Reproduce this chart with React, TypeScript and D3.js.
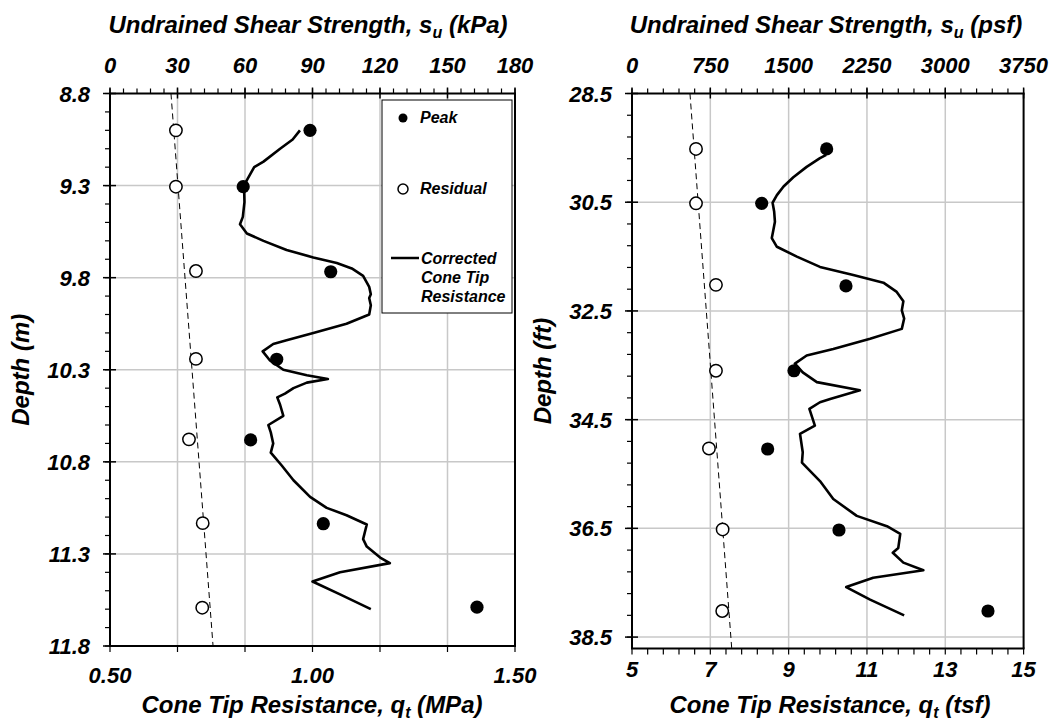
import React from "react";
import * as d3 from "d3";

const FONT = '"Liberation Sans", Arial, Helvetica, sans-serif';

// ---------- Left panel (metric) ----------
const leftPeakDepthM = [9.0, 9.306, 9.768, 10.243, 10.681, 11.136, 11.589];
const leftPeakSuKPa = [88.9, 59.2, 98.1, 74.1, 62.5, 94.8, 163.1];
const leftResDepthM = [9.0, 9.306, 9.764, 10.241, 10.678, 11.133, 11.592];
const leftResSuKPa = [29.3, 29.3, 38.2, 38.2, 35.1, 41.2, 41.0];
const leftTrendDepthM = [8.8, 11.8];
const leftTrendSuKPa = [27.1, 45.8];
const leftConeDepthM = [9.0, 9.05, 9.1, 9.17, 9.2, 9.27, 9.3, 9.39, 9.47, 9.51, 9.56, 9.6, 9.65, 9.69, 9.72, 9.75, 9.79, 9.85, 9.89, 9.91, 9.95, 10.0, 10.05, 10.1, 10.14, 10.16, 10.2, 10.25, 10.3, 10.33, 10.35, 10.37, 10.4, 10.43, 10.45, 10.49, 10.55, 10.6, 10.64, 10.7, 10.75, 10.82, 10.9, 10.99, 11.05, 11.09, 11.14, 11.22, 11.26, 11.32, 11.35, 11.4, 11.45, 11.52, 11.6];
const leftConeQtMPa = [0.969, 0.951, 0.92, 0.879, 0.856, 0.838, 0.831, 0.832, 0.828, 0.821, 0.838, 0.879, 0.936, 1.002, 1.06, 1.097, 1.125, 1.14, 1.144, 1.14, 1.144, 1.14, 1.084, 1.002, 0.936, 0.903, 0.877, 0.895, 0.928, 0.986, 1.038, 0.986, 0.953, 0.932, 0.913, 0.92, 0.928, 0.891, 0.897, 0.903, 0.897, 0.924, 0.953, 0.994, 1.035, 1.084, 1.134, 1.125, 1.134, 1.167, 1.191, 1.068, 1.0, 1.068, 1.144];

const leftTopTicks = [0, 30, 60, 90, 120, 150, 180];
const leftBottomLabels = [0.5, 1.0, 1.5];
const leftDepthTicks = [8.8, 9.3, 9.8, 10.3, 10.8, 11.3, 11.8];

// ---------- Right panel (imperial) ----------
const rightPeakDepthFt = [29.52, 30.52, 32.04, 33.6, 35.04, 36.53, 38.02];
const rightPeakSuPsf = [1864, 1242, 2049, 1551, 1299, 1982, 3409];
const rightResDepthFt = [29.52, 30.52, 32.02, 33.6, 35.03, 36.52, 38.02];
const rightResSuPsf = [613, 613, 804, 804, 737, 868, 864];
const rightTrendDepthFt = [28.5, 38.71];
const rightTrendSuPsf = [555, 955];
const rightConeDepthFt = [29.63, 29.69, 29.85, 30.04, 30.21, 30.37, 30.51, 30.67, 30.86, 31.01, 31.16, 31.32, 31.5, 31.69, 31.84, 31.98, 32.15, 32.32, 32.49, 32.64, 32.83, 33.01, 33.2, 33.32, 33.47, 33.63, 33.81, 33.96, 34.12, 34.18, 34.3, 34.61, 34.76, 35.1, 35.29, 35.63, 35.96, 36.27, 36.46, 36.6, 36.86, 36.95, 37.13, 37.27, 37.41, 37.58, 37.81, 38.1];
const rightConeQtTsf = [9.96, 9.8, 9.46, 9.12, 8.87, 8.7, 8.59, 8.63, 8.65, 8.61, 8.57, 8.7, 9.21, 9.8, 10.65, 11.42, 11.76, 11.93, 11.89, 11.95, 11.89, 11.08, 10.14, 9.46, 9.16, 9.36, 9.72, 10.82, 10.06, 9.8, 9.53, 9.67, 9.29, 9.36, 9.34, 9.8, 10.14, 10.74, 11.51, 11.85, 11.8, 11.66, 11.93, 12.44, 11.16, 10.47, 11.08, 11.95];

const rightTopTicks = [0, 750, 1500, 2250, 3000, 3750];
const rightBottomLabels = [5, 7, 9, 11, 13, 15];
const rightDepthTicks = [28.5, 30.5, 32.5, 34.5, 36.5, 38.5];

type PanelCfg = {
  x0: number; x1: number; y0: number; y1: number;
  topDomain: [number, number]; topTicks: number[]; topMinorStep: number;
  botDomain: [number, number]; botTickStep: number; botLabels: number[]; botFmt: (v: number) => string; botLabelY: number;
  yDomain: [number, number]; yTicks: number[]; yMinorStep: number; yFmt: (v: number) => string;
  gridY: number[];
  topTitleX: number; topTitleUnit: string;
  botTitleX: number; botTitleUnit: string;
  yTitleX: number; yTitle: string;
  peakD: number[]; peakS: number[]; resD: number[]; resS: number[];
  trendD: number[]; trendS: number[];
  coneD: number[]; coneQ: number[];
  legend: boolean;
};

const TXT = { fontFamily: FONT, fontWeight: 700, fontStyle: "italic" as const, fill: "#000" };

function Panel({ c }: { c: PanelCfg }) {
  const xTop = d3.scaleLinear().domain(c.topDomain).range([c.x0, c.x1]);
  const xBot = d3.scaleLinear().domain(c.botDomain).range([c.x0, c.x1]);
  const y = d3.scaleLinear().domain(c.yDomain).range([c.y0, c.y1]);

  const topMinor = d3.range(c.topDomain[0], c.topDomain[1] + 1e-6, c.topMinorStep);
  const botTicks = d3.range(c.botDomain[0], c.botDomain[1] + 1e-6, c.botTickStep);
  const yMinor = d3.range(c.yTicks[0], c.yTicks[c.yTicks.length - 1] + 1e-6, c.yMinorStep);

  const coneLine = d3.line<number>().x((_, i) => xBot(c.coneQ[i])).y((d) => y(d));
  const trendLine = d3.line<number>().x((_, i) => xTop(c.trendS[i])).y((d) => y(d));
  const gridX = c.topTicks.slice(1, -1);

  return (
    <g>
      {gridX.map((v) => (
        <line key={"gx" + v} x1={xTop(v)} x2={xTop(v)} y1={c.y0} y2={c.y1} stroke="#c8c8c8" strokeWidth={1.5} />
      ))}
      {c.gridY.map((v) => (
        <line key={"gy" + v} x1={c.x0} x2={c.x1} y1={y(v)} y2={y(v)} stroke="#c8c8c8" strokeWidth={1.5} />
      ))}
      <path d={trendLine(c.trendD) || ""} fill="none" stroke="#000" strokeWidth={1} strokeDasharray="6,4" />
      <path d={coneLine(c.coneD) || ""} fill="none" stroke="#000" strokeWidth={2.6} strokeLinejoin="round" />
      {c.resD.map((d, i) => (
        <circle key={"r" + i} cx={xTop(c.resS[i])} cy={y(d)} r={6.2} fill="#fff" stroke="#000" strokeWidth={1.5} />
      ))}
      {c.peakD.map((d, i) => (
        <circle key={"p" + i} cx={xTop(c.peakS[i])} cy={y(d)} r={6.6} fill="#000" />
      ))}
      {c.legend && (
        <g>
          <rect x={382} y={100} width={130} height={213} fill="#fff" stroke="#000" strokeWidth={1} />
          <circle cx={403} cy={118} r={4.5} fill="#000" />
          <text x={420} y={123} fontSize={16} {...TXT}>Peak</text>
          <circle cx={403} cy={189} r={5} fill="#fff" stroke="#000" strokeWidth={1.5} />
          <text x={420} y={194} fontSize={16} {...TXT}>Residual</text>
          <line x1={391} x2={419} y1={258} y2={258} stroke="#000" strokeWidth={2.5} />
          <text x={421} y={264} fontSize={16} {...TXT}>Corrected</text>
          <text x={421} y={283} fontSize={16} {...TXT}>Cone Tip</text>
          <text x={421} y={302} fontSize={16} {...TXT}>Resistance</text>
        </g>
      )}
      <line x1={c.x1} x2={c.x1} y1={c.y0} y2={c.y1} stroke="#000" strokeWidth={2} />
      <line x1={c.x0} x2={c.x0} y1={c.y0} y2={c.y1} stroke="#000" strokeWidth={2} />
      <line x1={c.x0 - 1} x2={c.x1 + 1} y1={c.y0} y2={c.y0} stroke="#000" strokeWidth={2} />
      <line x1={c.x0 - 1} x2={c.x1 + 1} y1={c.y1} y2={c.y1} stroke="#000" strokeWidth={2} />
      {topMinor.map((v, i) => (
        <line key={"tm" + i} x1={xTop(v)} x2={xTop(v)} y1={c.y0 - 5} y2={c.y0} stroke="#000" strokeWidth={1.2} />
      ))}
      {c.topTicks.map((v) => (
        <line key={"tM" + v} x1={xTop(v)} x2={xTop(v)} y1={c.y0 - 6} y2={c.y0 + 5} stroke="#000" strokeWidth={1.5} />
      ))}
      {c.topTicks.map((v) => (
        <text key={"tl" + v} x={xTop(v)} y={73} fontSize={22} textAnchor="middle" {...TXT}>{v}</text>
      ))}
      {botTicks.map((v, i) => (
        <line key={"bt" + i} x1={xBot(v)} x2={xBot(v)} y1={c.y1} y2={c.y1 + 6} stroke="#000" strokeWidth={1.2} />
      ))}
      {c.botLabels.map((v) => (
        <text key={"bl" + v} x={xBot(v)} y={c.botLabelY} fontSize={22} textAnchor="middle" {...TXT}>{c.botFmt(v)}</text>
      ))}
      {yMinor.map((v, i) => (
        <line key={"ym" + i} x1={c.x0 - 5} x2={c.x0} y1={y(v)} y2={y(v)} stroke="#000" strokeWidth={1.2} />
      ))}
      {c.yTicks.map((v) => (
        <line key={"yM" + v} x1={c.x0 - 7} x2={c.x0 + 6} y1={y(v)} y2={y(v)} stroke="#000" strokeWidth={1.5} />
      ))}
      {c.yTicks.map((v) => (
        <text key={"yl" + v} x={c.x0 - 20} y={y(v) + 8} fontSize={22} textAnchor="end" {...TXT}>{c.yFmt(v)}</text>
      ))}
      <text x={c.topTitleX} y={33} fontSize={24} textAnchor="middle" {...TXT}>
        Undrained Shear Strength, s<tspan fontSize={16} dy={5}>u</tspan><tspan dy={-5}> ({c.topTitleUnit})</tspan>
      </text>
      <text x={c.botTitleX} y={713} fontSize={24} textAnchor="middle" {...TXT}>
        Cone Tip Resistance, q<tspan fontSize={16} dy={5}>t</tspan><tspan dy={-5}> ({c.botTitleUnit})</tspan>
      </text>
      <text transform={`translate(${c.yTitleX},${(c.y0 + c.y1) / 2}) rotate(-90)`} fontSize={24} textAnchor="middle" {...TXT}>
        {c.yTitle}
      </text>
    </g>
  );
}

const leftCfg: PanelCfg = {
  x0: 110, x1: 515, y0: 93.5, y1: 646,
  topDomain: [0, 180], topTicks: leftTopTicks, topMinorStep: 6,
  botDomain: [0.5, 1.5], botTickStep: 1 / 6, botLabels: leftBottomLabels, botFmt: (v) => v.toFixed(2), botLabelY: 683,
  yDomain: [8.8, 11.8], yTicks: leftDepthTicks, yMinorStep: 0.1, yFmt: (v) => v.toFixed(1),
  gridY: leftDepthTicks.slice(1, -1),
  topTitleX: 308, topTitleUnit: "kPa",
  botTitleX: 312, botTitleUnit: "MPa",
  yTitleX: 29, yTitle: "Depth (m)",
  peakD: leftPeakDepthM, peakS: leftPeakSuKPa, resD: leftResDepthM, resS: leftResSuKPa,
  trendD: leftTrendDepthM, trendS: leftTrendSuKPa,
  coneD: leftConeDepthM, coneQ: leftConeQtMPa,
  legend: true,
};

const rightCfg: PanelCfg = {
  x0: 632, x1: 1023.6, y0: 93.5, y1: 648.5,
  topDomain: [0, 3750], topTicks: rightTopTicks, topMinorStep: 150,
  botDomain: [5, 15], botTickStep: 0.4, botLabels: rightBottomLabels, botFmt: (v) => String(v), botLabelY: 677,
  yDomain: [28.5, 38.71], yTicks: rightDepthTicks, yMinorStep: 0.4, yFmt: (v) => v.toFixed(1),
  gridY: rightDepthTicks.slice(1),
  topTitleX: 826, topTitleUnit: "psf",
  botTitleX: 830, botTitleUnit: "tsf",
  yTitleX: 551, yTitle: "Depth (ft)",
  peakD: rightPeakDepthFt, peakS: rightPeakSuPsf, resD: rightResDepthFt, resS: rightResSuPsf,
  trendD: rightTrendDepthFt, trendS: rightTrendSuPsf,
  coneD: rightConeDepthFt, coneQ: rightConeQtTsf,
  legend: false,
};

export default function App() {
  return (
    <svg width={1057} height={721} style={{ position: "absolute", left: 0, top: 0, background: "#fff" }}>
      <rect x={0} y={0} width={1057} height={721} fill="#fff" />
      <Panel c={leftCfg} />
      <Panel c={rightCfg} />
    </svg>
  );
}
